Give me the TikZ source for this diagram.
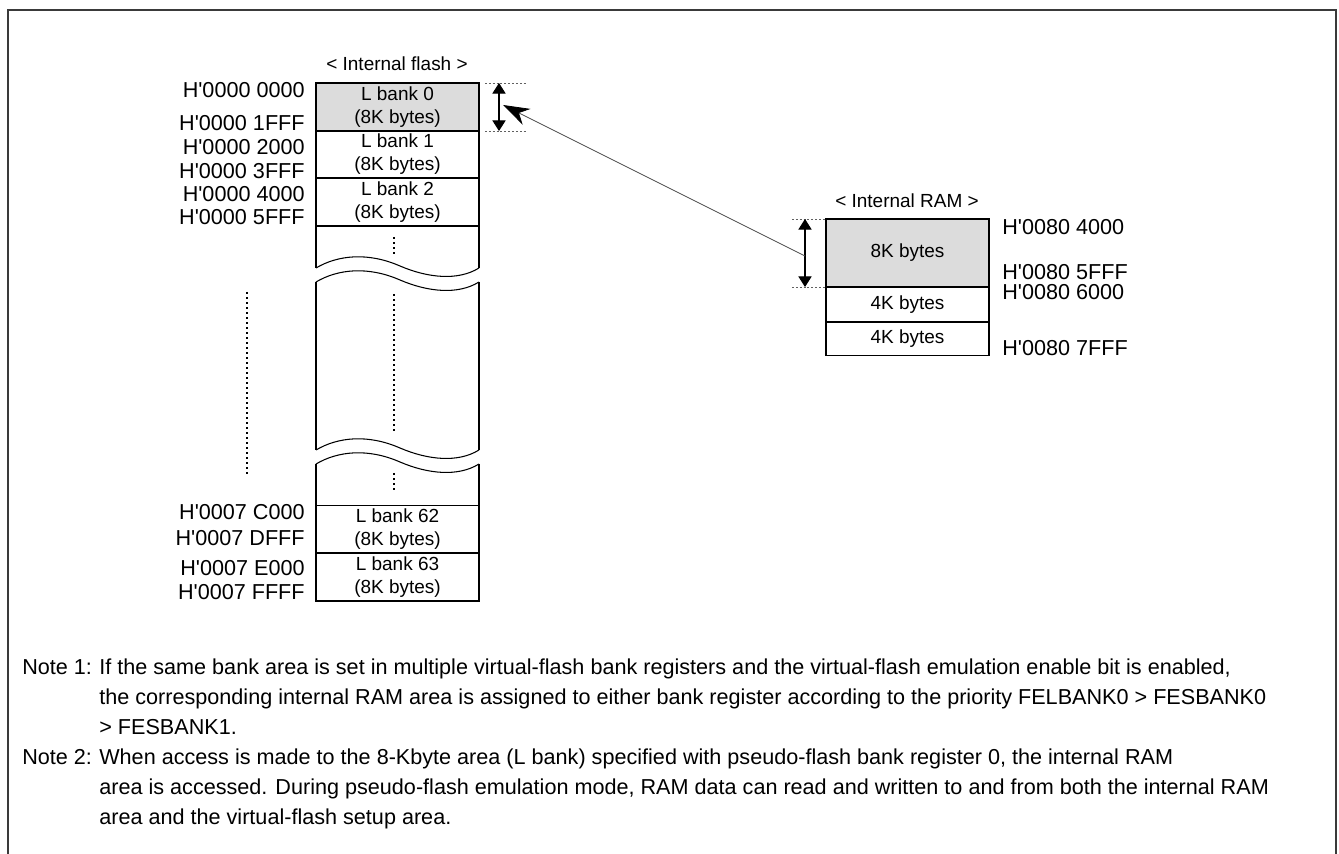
\documentclass[tikz,border=0pt]{standalone}
\usepackage{fontspec}
\setmainfont{Liberation Sans}[Ligatures=TeXOff]
\usetikzlibrary{arrows.meta}
\definecolor{bankgray}{HTML}{DCDCDC}
\definecolor{framegray}{HTML}{3A3A3A}
\definecolor{guidegray}{HTML}{606060}
\definecolor{linkgray}{HTML}{4A4A4A}

\begin{document}
\begin{tikzpicture}[x=0.02cm, y=-0.02cm, >=stealth,
    every node/.style={inner sep=0pt, font=\fontsize{12.3}{14}\selectfont},
    bank/.style={draw, line width=0.6pt, minimum width=3.26cm,
                 minimum height=0.96cm, align=center,
                 font=\fontsize{10.8}{13}\selectfont},
    header/.style={font=\fontsize{10.8}{13}\selectfont},
    addr/.style={anchor=base east},
    raddr/.style={anchor=base west},
    note/.style={anchor=base west},
    wall/.style={line width=0.6pt},
    vdots/.style={line width=1.3pt, dash pattern=on 1.2pt off 1.65pt},
    guide/.style={guidegray, line width=0.4pt, dash pattern=on 1.1pt off 1.1pt},
    span/.style={line width=0.6pt, {Triangle[length=6pt,width=7.5pt]}-{Triangle[length=6pt,width=7.5pt]}},
    link/.style={linkgray, line width=0.45pt, -{Stealth[length=15pt,width=10pt,black]}}]

  \useasboundingbox (0,0) rectangle (1339,854);

  %% outer frame, open at the bottom
  \draw[framegray, line width=0.8pt] (8,854) -- (8,10) -- (1336,10) -- (1336,854);

  %% internal flash
  \node[header] (fhead) at (397,64) {< Internal flash >};
  \node[bank, fill=bankgray] (lb0) at (397.5,107) {L bank 0\\(8K bytes)};
  \node[bank] (lb1) at (397.5,154.5) {L bank 1\\(8K bytes)};
  \node[bank] (lb2) at (397.5,202) {L bank 2\\(8K bytes)};
  \node[bank] (lb62) at (397.5,529.5) {L bank 62\\(8K bytes)};
  \node[bank] (lb63) at (397.5,577) {L bank 63\\(8K bytes)};

  %% broken part of the column
  \draw[wall] (316,226) -- (316,268) (479,226) -- (479,268);
  \draw[wall] (316,282) -- (316,450) (479,282) -- (479,450);
  \draw[wall] (316,464) -- (316,506) (479,464) -- (479,506);
  \foreach \y in {268,282,450,464} {
    \draw[wall] (316,\y) .. controls (338,\y-13) and (368,\y-16) .. (400,\y-2)
                .. controls (428,\y+10) and (458,\y+13) .. (479,\y);
  }
  \draw[vdots] (394,237) -- (394,254);
  \draw[vdots] (394,294) -- (394,434);
  \draw[vdots] (394,473) -- (394,492);
  \draw[vdots] (247,292) -- (247,476);

  %% flash addresses
  \node[addr] (a0000) at (305,97.5) {H'0000 0000};
  \node[addr] (a1fff) at (305,130.5) {H'0000 1FFF};
  \node[addr] (a2000) at (305,154.5) {H'0000 2000};
  \node[addr] (a3fff) at (305,178.5) {H'0000 3FFF};
  \node[addr] (a4000) at (305,201.5) {H'0000 4000};
  \node[addr] (a5fff) at (305,224.5) {H'0000 5FFF};
  \node[addr] (ac000) at (305,519.5) {H'0007 C000};
  \node[addr] (adfff) at (305,545.5) {H'0007 DFFF};
  \node[addr] (ae000) at (305,575.5) {H'0007 E000};
  \node[addr] (affff) at (305,599.5) {H'0007 FFFF};

  %% size of L bank 0
  \draw[guide] (485,83) -- (527,83);
  \draw[guide] (485,131) -- (527,131);
  \coordinate (ftop) at (499,83);
  \coordinate (fbot) at (499,131);
  \draw[span] (ftop) -- (fbot);
  \coordinate (fhit) at (503,105);

  %% internal RAM
  \node[header] (rhead) at (907,201) {< Internal RAM >};
  \node[bank, fill=bankgray, minimum height=1.36cm] (ram8k) at (907.5,253) {8K bytes};
  \node[bank, minimum height=0.7cm] (ram4a) at (907.5,304.5) {4K bytes};
  \node[bank, minimum height=0.68cm] (ram4b) at (907.5,338.5) {4K bytes};

  \node[raddr] (r4000) at (1002,234.5) {H'0080 4000};
  \node[raddr] (r5fff) at (1002,279.5) {H'0080 5FFF};
  \node[raddr] (r6000) at (1002,300) {H'0080 6000};
  \node[raddr] (r7fff) at (1002,355.5) {H'0080 7FFF};

  %% size of the 8K RAM area
  \draw[guide] (792,219) -- (826,219);
  \draw[guide] (792,287) -- (826,287);
  \coordinate (rtop) at (805,219);
  \coordinate (rbot) at (805,287);
  \draw[span] (rtop) -- (rbot);
  \coordinate (rmid) at (805,256);

  %% RAM area stands in for L bank 0
  \draw[link] (rmid) -- (fhit);

  %% notes
  \node[note] (n1a) at (22,674.5) {\makebox[1.54cm][l]{Note 1:}If the same bank area is set in multiple virtual-flash bank registers and the virtual-flash emulation enable bit is enabled,};
  \node[note] (n1b) at (99,704.5) {the corresponding internal RAM area is assigned to either bank register according to the priority FELBANK0 > FESBANK0};
  \node[note] (n1c) at (99,734.5) {> FESBANK1.};
  \node[note] (n2a) at (22,764.5) {\makebox[1.54cm][l]{Note 2:}When access is made to the 8-Kbyte area (L bank) specified with pseudo-flash bank register 0, the internal RAM};
  \node[note] (n2b) at (99,794.5) {area is accessed. During pseudo-flash emulation mode, RAM data can read and written to and from both the internal RAM};
  \node[note] (n2c) at (99,824.5) {area and the virtual-flash setup area.};

\end{tikzpicture}
\end{document}
